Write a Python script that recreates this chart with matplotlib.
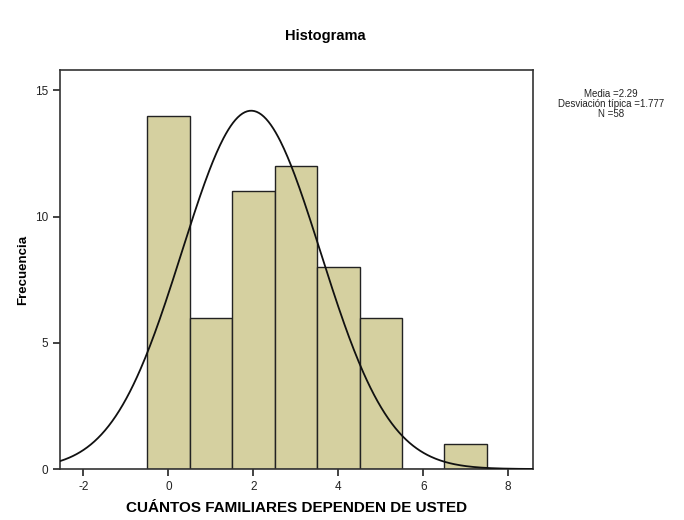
import matplotlib
matplotlib.use("Agg")
import matplotlib.pyplot as plt
import numpy as np

plt.rcParams['font.family'] = ['Liberation Sans', 'DejaVu Sans']
plt.rcParams['axes.unicode_minus'] = False

# datos del histograma
valores = [0, 1, 2, 3, 4, 5, 6, 7]
frecuencias = [14, 6, 11, 12, 8, 6, 0, 1]
media = 2.29
desv = 1.777
n = 58
# curva normal tal como aparece dibujada
curva_media = 1.95
curva_desv = 1.63

fig = plt.figure(figsize=(6.84, 5.2), dpi=100)
ax = fig.add_axes([0.0877, 0.098, 0.779 - 0.0877, 0.865 - 0.098])

ax.bar(valores, frecuencias, width=1.0, color='#d5d0a0', edgecolor='#222222',
       linewidth=1.0, zorder=2)

xs = np.linspace(-2.55, 8.58, 400)
ys = n * np.exp(-(xs - curva_media) ** 2 / (2 * curva_desv ** 2)) / (curva_desv * np.sqrt(2 * np.pi))
ax.plot(xs, ys, color='#111111', linewidth=1.3, zorder=3)

ax.set_xlim(-2.55, 8.58)
ax.set_ylim(0, 15.8)
ax.set_xticks([-2, 0, 2, 4, 6, 8])
ax.set_yticks([0, 5, 10, 15])
ax.tick_params(axis='both', direction='out', length=5, width=1.2, labelsize=8.5, colors='#222222')
ax.tick_params(top=False, right=False)
for s in ax.spines.values():
    s.set_color('#333333')
    s.set_linewidth(1.2)

ax.set_xlabel('CUÁNTOS FAMILIARES DEPENDEN DE USTED', fontsize=11, fontweight='bold', labelpad=6)
ax.set_ylabel('Frecuencia', fontsize=9.5, fontweight='bold', labelpad=4)
fig.text(0.475, 0.93, 'Histograma', ha='center', va='center', fontsize=10.5, fontweight='bold')

fig.text(0.893, 0.8, 'Media =%.2f\nDesviación típica =%.3f\nN =%d' % (media, desv, n),
         ha='center', va='center', fontsize=7, linespacing=0.95, color='#222222')

fig.savefig('out.png', dpi=100)
